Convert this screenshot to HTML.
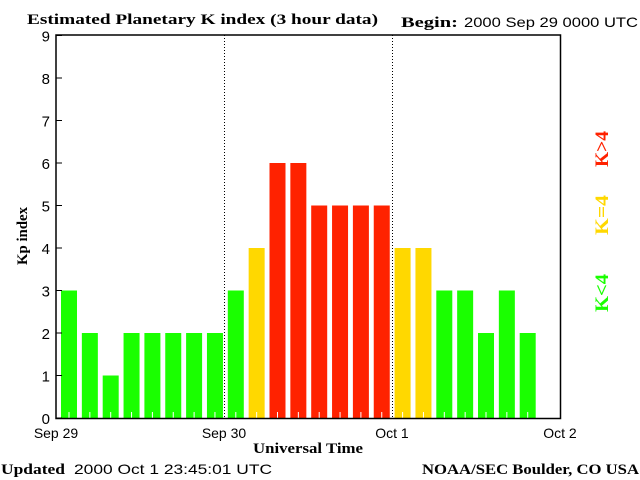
<!DOCTYPE html>
<html><head><meta charset="utf-8"><style>
html,body{margin:0;padding:0;background:#fff;width:640px;height:480px;overflow:hidden}
svg text{font-family:"Liberation Sans",sans-serif}
.b{font-family:"Liberation Serif",serif;font-weight:bold}
</style></head><body>
<svg id="c" width="640" height="480" viewBox="0 0 640 480">
<text class="b" x="27" y="24" font-size="15" textLength="351" lengthAdjust="spacingAndGlyphs">Estimated Planetary K index (3 hour data)</text>
<text class="b" x="401" y="27" font-size="15" textLength="57" lengthAdjust="spacingAndGlyphs">Begin:</text>
<text x="464" y="27" font-size="14" textLength="174" lengthAdjust="spacingAndGlyphs">2000 Sep 29 0000 UTC</text>
<g id="bars"></g>
<rect x="56" y="35" width="504.5" height="383.5" fill="none" stroke="#000" stroke-width="1.5"/>
<line x1="224.5" y1="35" x2="224.5" y2="418" stroke="#000" stroke-dasharray="1,2"/>
<line x1="392.5" y1="35" x2="392.5" y2="418" stroke="#000" stroke-dasharray="1,2"/>
<g id="yaxis"></g>
<g id="xaxis"></g>
<text class="b" x="0" y="0" font-size="15" transform="translate(27,236) rotate(-90)" text-anchor="middle" textLength="58" lengthAdjust="spacingAndGlyphs">Kp index</text>
<text class="b" x="253" y="453" font-size="15" textLength="110" lengthAdjust="spacingAndGlyphs">Universal Time</text>
<text class="b" x="1" y="474" font-size="15" textLength="64" lengthAdjust="spacingAndGlyphs">Updated</text>
<text x="74" y="474" font-size="14" textLength="198" lengthAdjust="spacingAndGlyphs">2000 Oct  1 23:45:01 UTC</text>
<text class="b" x="422" y="474" font-size="15" textLength="217" lengthAdjust="spacingAndGlyphs">NOAA/SEC Boulder, CO USA</text>
<text class="b" font-size="19" fill="#ff2200" transform="translate(608,149) rotate(-90)" text-anchor="middle" textLength="36" lengthAdjust="spacingAndGlyphs">K&gt;4</text>
<text class="b" font-size="19" fill="#ffd800" transform="translate(608,215) rotate(-90)" text-anchor="middle" textLength="40" lengthAdjust="spacingAndGlyphs">K=4</text>
<text class="b" font-size="19" fill="#1aff00" transform="translate(608,293) rotate(-90)" text-anchor="middle" textLength="38" lengthAdjust="spacingAndGlyphs">K&lt;4</text>
</svg>
<script>
const kpValues=[3,2,1,2,2,2,2,2,3,4,6,6,5,5,5,5,4,4,3,3,2,3,2];
const yTicks=[0,1,2,3,4,5,6,7,8,9];
const dayLabels=["Sep 29","Sep 30","Oct 1","Oct 2"];
const NS="http://www.w3.org/2000/svg";
const X0=56,DAY=168,Y0=418,YU=42.5,STEP=20.85,BW=16;
const yS=v=>Y0-v*YU;
const xS=i=>X0+5+i*STEP;
function mk(t,a,p){const e=document.createElementNS(NS,t);for(const k in a)e.setAttribute(k,a[k]);p.appendChild(e);return e;}
const bars=document.getElementById('bars');
kpValues.forEach((v,i)=>{
 const col=v>4?'#ff2200':(v==4?'#ffd800':'#1aff00');
 const r=mk('rect',{x:xS(i),y:yS(v),width:BW,height:Y0-yS(v),fill:col},bars);
 
 
 const t=mk('line',{x1:xS(i)+BW/2,x2:xS(i)+BW/2,y1:Y0-6,y2:Y0,stroke:'#fff'},bars);
 
 
});
const ya=document.getElementById('yaxis');
yTicks.forEach(v=>{
 const l=mk('line',{x1:X0,x2:X0+6,y1:yS(v),y2:yS(v),stroke:'#000'},ya);
 
 
 const t=mk('text',{x:50,y:yS(v)+6,'font-size':15,'text-anchor':'end'},ya);
 t.textContent=v;
 
 
});
const xa=document.getElementById('xaxis');
dayLabels.forEach((d,i)=>{
 const t=mk('text',{x:X0+i*DAY,y:438,'font-size':14,'text-anchor':'middle'},xa);
 t.textContent=d;
 
 
});
</script>
</body></html>
